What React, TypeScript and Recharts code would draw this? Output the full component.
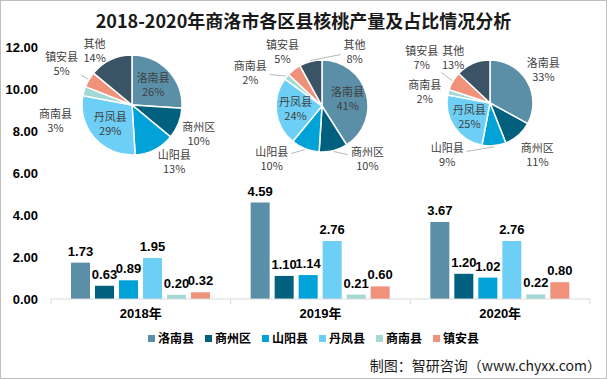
import { BarChart, Bar, XAxis, YAxis, LabelList, PieChart, Pie, Cell } from 'recharts';

const years = ['2018年', '2019年', '2020年'];
const counties = ['洛南县', '商州区', '山阳县', '丹凤县', '商南县', '镇安县'];

// 产量（万吨）
const luonan = [1.73, 4.59, 3.67];
const shangzhou = [0.63, 1.1, 1.2];
const shanyang = [0.89, 1.14, 1.02];
const danfeng = [1.95, 2.76, 2.76];
const shangnan = [0.2, 0.21, 0.22];
const zhenan = [0.32, 0.6, 0.8];

// 占比（%）
const pieNames = ['洛南县', '商州区', '山阳县', '丹凤县', '商南县', '镇安县', '其他'];
const share2018 = [26, 10, 13, 29, 3, 5, 14];
const share2019 = [41, 10, 10, 24, 2, 5, 8];
const share2020 = [33, 11, 9, 25, 2, 7, 13];

const yTicks = [0, 2, 4, 6, 8, 10, 12];

const COLORS: Record<string, string> = {
  洛南县: '#5B8FA8',
  商州区: '#02607F',
  山阳县: '#00A2D8',
  丹凤县: '#6DCFF6',
  商南县: '#A3D9D5',
  镇安县: '#F0917A',
  其他: '#3A5465'
};

const seriesValues = [luonan, shangzhou, shanyang, danfeng, shangnan, zhenan];

const barData = years.map((year, i) => {
  const row: Record<string, string | number> = { year };
  counties.forEach((c, j) => {
    row[c] = seriesValues[j][i];
  });
  return row;
});

const CJK = "'Noto Sans CJK SC', 'Noto Sans', sans-serif";
const NUM = "'Liberation Sans Narrow', 'Liberation Sans', 'Noto Sans CJK SC', sans-serif";
const RAD = Math.PI / 180;

const W = 607;
const H = 379;
const MARGIN = { top: 47, right: 17, bottom: 50, left: 0 };
const Y_AXIS_W = 51;
const BAND = (W - MARGIN.left - MARGIN.right - Y_AXIS_W) / years.length;

// label placement tweaks (like Excel's hand-dragged labels)
type LabelCfg = { inside: string[]; nudge: Record<string, [number, number]>; lines: string[] };

const cfg2018: LabelCfg = {
  inside: ['洛南县', '丹凤县'],
  nudge: { 其他: [3, 4], 镇安县: [-3, -8], 商南县: [-3, 34], 商州区: [-5, 5] },
  lines: ['镇安县']
};
const cfg2019: LabelCfg = {
  inside: ['洛南县', '丹凤县'],
  nudge: { 其他: [61, 4], 镇安县: [10, -7], 商南县: [-13, 5], 商州区: [17, -5], 山阳县: [-15, -3] },
  lines: ['其他', '商南县', '商州区', '山阳县']
};
const cfg2020: LabelCfg = {
  inside: ['丹凤县'],
  nudge: { 洛南县: [-8, -4], 商州区: [-3, 9], 山阳县: [-62, -5], 商南县: [2, 3], 镇安县: [-7, -16], 其他: [-1, 7] },
  lines: ['山阳县', '镇安县']
};

function pieLabel(c: LabelCfg) {
  return (props: any) => {
    const { cx, cy, midAngle, outerRadius, name, value } = props;
    const ux = Math.cos(-midAngle * RAD);
    const uy = Math.sin(-midAngle * RAD);
    let x: number;
    let y: number;
    const isIn = c.inside.includes(name);
    if (isIn) {
      x = cx + outerRadius * 0.58 * ux;
      y = cy + outerRadius * 0.58 * uy;
    } else {
      const [nx, ny] = c.nudge[name] || [0, 0];
      x = cx + (outerRadius + 12) * ux + Math.sign(ux) * 14 + nx;
      y = cy + (outerRadius + 14) * uy + ny;
    }
    let line = null;
    if (!isIn && c.lines.includes(name)) {
      const ex = cx + (outerRadius + 1) * ux;
      const ey = cy + (outerRadius + 1) * uy;
      const dx = ex - x;
      const dy = ey - y;
      const hw = name.length * 5.5 + 3;
      const hh = 15;
      const t = Math.min(dx === 0 ? 99 : hw / Math.abs(dx), dy === 0 ? 99 : hh / Math.abs(dy));
      if (t < 1) {
        line = <line x1={ex} y1={ey} x2={x + dx * t} y2={y + dy * t} stroke="#A6A6A6" strokeWidth={0.8} />;
      }
    }
    return (
      <g>
        {line}
        <text x={x} y={y} textAnchor="middle" fontSize={11} fill="#404040" fontFamily={CJK}>
          <tspan x={x} dy={-3}>{name}</tspan>
          <tspan x={x} dy={14}>{value}%</tspan>
        </text>
      </g>
    );
  };
}

type PieProps = { shares: number[]; cx: number; cy: number; r: number; cfg: LabelCfg };

function SharePie({ shares, cx, cy, r, cfg }: PieProps) {
  const data = pieNames.map((name, i) => ({ name, value: shares[i] }));
  const w = 240;
  const h = 190;
  return (
    <div style={{ position: 'absolute', left: cx - w / 2, top: cy - h / 2 }}>
      <PieChart width={w} height={h} margin={{ top: 0, right: 0, bottom: 0, left: 0 }}>
        <Pie
          data={data}
          dataKey="value"
          nameKey="name"
          cx={w / 2}
          cy={h / 2}
          outerRadius={r}
          startAngle={90}
          endAngle={-270}
          stroke="#fff"
          strokeWidth={1.5}
          label={pieLabel(cfg)}
          labelLine={false}
          isAnimationActive={false}
        >
          {data.map(d => (
            <Cell key={d.name} fill={COLORS[d.name]} />
          ))}
        </Pie>
      </PieChart>
    </div>
  );
}

// category label plus Excel-style tick marks on the category boundaries
function YearTick(props: any) {
  const { x, y, payload, index } = props;
  const axisY = y - 10;
  const half = BAND / 2;
  return (
    <g>
      <line x1={x - half} x2={x - half} y1={axisY} y2={axisY + 5} stroke="#D9D9D9" />
      {index === years.length - 1 && <line x1={x + half} x2={x + half} y1={axisY} y2={axisY + 5} stroke="#D9D9D9" />}
      <text x={x} y={y} dy="0.71em" textAnchor="middle" fill="#000" fontSize={13} fontWeight={700} fontFamily={NUM}>
        {payload.value}
      </text>
    </g>
  );
}

export default function App() {
  return (
    <div style={{ position: 'absolute', left: 0, top: 0, width: W, height: H, background: '#fff', overflow: 'hidden' }}>
      <div
        style={{
          position: 'absolute',
          left: 0,
          top: 7,
          width: W,
          textAlign: 'center',
          fontFamily: CJK,
          fontWeight: 700,
          fontSize: 18,
          lineHeight: '26px',
          color: '#1a1a1a'
        }}
      >
        2018-2020年商洛市各区县核桃产量及占比情况分析
      </div>

      <div style={{ position: 'absolute', left: 0, top: 0 }}>
        <BarChart width={W} height={H} data={barData} margin={MARGIN} barSize={19} barGap={5}>
          <XAxis
            dataKey="year"
            height={30}
            axisLine={{ stroke: '#D9D9D9' }}
            tickLine={false}
            tickMargin={4}
            tick={<YearTick />}
          />
          <YAxis
            width={Y_AXIS_W}
            domain={[0, 12]}
            ticks={yTicks}
            axisLine={false}
            tickLine={false}
            tickMargin={7}
            tickFormatter={(v: number) => v.toFixed(2)}
            tick={{ fill: '#000', fontSize: 13, fontWeight: 700, fontFamily: NUM }}
          />
          {counties.map(c => (
            <Bar key={c} dataKey={c} fill={COLORS[c]} isAnimationActive={false}>
              <LabelList
                dataKey={c}
                position="top"
                offset={7}
                formatter={(v: any) => Number(v).toFixed(2)}
                style={{ fill: '#000', fontSize: 13, fontWeight: 700, fontFamily: NUM }}
              />
            </Bar>
          ))}
        </BarChart>
      </div>

      <SharePie shares={share2018} cx={132} cy={105} r={50} cfg={cfg2018} />
      <SharePie shares={share2019} cx={322} cy={106} r={46} cfg={cfg2019} />
      <SharePie shares={share2020} cx={490} cy={103} r={43} cfg={cfg2020} />

      {/* legend */}
      <div
        style={{
          position: 'absolute',
          left: 148,
          top: 329,
          display: 'flex',
          gap: 11,
          fontFamily: CJK,
          fontWeight: 700,
          fontSize: 12,
          lineHeight: '18px',
          color: '#000'
        }}
      >
        {counties.map(c => (
          <div key={c} style={{ display: 'flex', alignItems: 'center' }}>
            <span style={{ width: 7, height: 7, background: COLORS[c], marginRight: 3, display: 'inline-block' }} />
            <span>{c}</span>
          </div>
        ))}
      </div>

      <div
        style={{
          position: 'absolute',
          right: 6,
          top: 355,
          fontFamily: CJK,
          fontSize: 14,
          lineHeight: '20px',
          color: '#1a1a1a'
        }}
      >
        制图：智研咨询（www.chyxx.com）
      </div>

      <div style={{ position: 'absolute', inset: 0, border: '1px solid #BFBFBF', boxSizing: 'border-box', pointerEvents: 'none' }} />
    </div>
  );
}
